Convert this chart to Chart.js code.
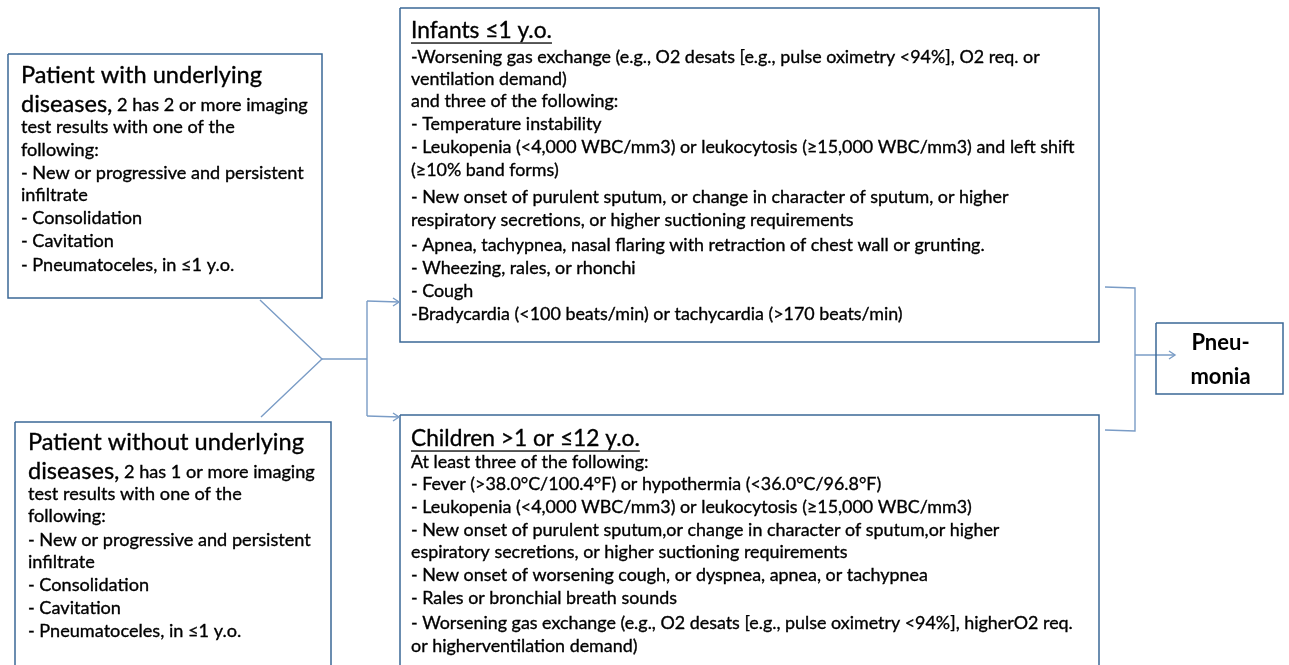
<!DOCTYPE html>
<html>
<head>
<meta charset="utf-8">
<script src="https://cdn.jsdelivr.net/npm/chart.js@4/dist/chart.umd.min.js"></script>
<style>
    body { margin: 0; background: #ffffff; }
    #wrap { width: 1289px; height: 665px; position: relative; }
</style>
</head>
<body>
<div id="wrap"><canvas id="flow"></canvas></div>
<script>
// box texts
const withDiseaseTitle = ["Patient with underlying", "diseases,"];
const withDiseaseLines = [
    " 2 has 2 or more imaging",
    "test results with one of the",
    "following:",
    "- New or progressive and persistent",
    "infiltrate",
    "- Consolidation",
    "- Cavitation",
    "- Pneumatoceles, in \u22641 y.o."
];
const withoutDiseaseTitle = ["Patient without underlying", "diseases,"];
const withoutDiseaseLines = [
    " 2 has 1 or more imaging",
    "test results with one of the",
    "following:",
    "- New or progressive and persistent",
    "infiltrate",
    "- Consolidation",
    "- Cavitation",
    "- Pneumatoceles, in \u22641 y.o."
];
const infantTitle = "Infants \u22641 y.o.";
const infantLines = [
    "-Worsening gas exchange (e.g., O2 desats [e.g., pulse oximetry <94%], O2 req. or",
    "ventilation demand)",
    "and three of the following:",
    "- Temperature instability",
    "- Leukopenia (<4,000 WBC/mm3) or leukocytosis (\u226515,000 WBC/mm3) and left shift",
    "(\u226510% band forms)",
    "- New onset of purulent sputum, or change in character of sputum, or higher",
    "respiratory secretions, or higher suctioning requirements",
    "- Apnea, tachypnea, nasal flaring with retraction of chest wall or grunting.",
    "- Wheezing, rales, or rhonchi",
    "- Cough",
    "-Bradycardia (<100 beats/min) or tachycardia (>170 beats/min)"
];
const childTitle = "Children >1 or \u226412 y.o.";
const childLines = [
    "At least three of the following:",
    "- Fever (>38.0\u00b0C/100.4\u00b0F) or hypothermia (<36.0\u00b0C/96.8\u00b0F)",
    "- Leukopenia (<4,000 WBC/mm3) or leukocytosis (\u226515,000 WBC/mm3)",
    "- New onset of purulent sputum,or change in character of sputum,or higher",
    "espiratory secretions, or higher suctioning requirements",
    "- New onset of worsening cough, or dyspnea, apnea, or tachypnea",
    "- Rales or bronchial breath sounds",
    "- Worsening gas exchange (e.g., O2 desats [e.g., pulse oximetry <94%], higherO2 req.",
    "or higherventilation demand)"
];
const resultLines = ["Pneu-", "monia"];

// layout (pixels on a 1289 x 665 grid)
const boxes = {
    withDisease: [8, 54, 322, 298],
    withoutDisease: [15, 422, 331, 700],
    infant: [400, 8, 1099, 342],
    child: [400, 415, 1099, 700],
    result: [1156, 323, 1283, 394]
};
const links = [
    [[260, 300], [322, 359], [261, 417]],
    [[322, 359], [367, 359]],
    [[367, 301], [367, 416]],
    [[367, 301], [399, 302]],
    [[367, 416], [399, 417]],
    [[1105, 287], [1135, 288], [1135, 431], [1105, 430]],
    [[1135, 355], [1175, 355]]
];
const arrowEnds = [[399, 302], [399, 417], [1175, 355]];

const textX = { withDisease: 21, withoutDisease: 28, infant: 411, child: 411 };
const rowsWith = [75, 104, 127, 150, 173, 195, 218, 241, 265];
const rowsWithout = [442, 471, 494, 516, 540, 562, 585, 608, 631];
const rowsInfant = [31, 57, 79, 101, 124, 147, 170, 197, 220, 245, 268, 291, 314];
const rowsChild = [439, 462, 484, 507, 530, 552, 575, 598, 623, 646];

const BOX_COLOR = '#3b6896';
const LINK_COLOR = '#7a9cc6';
const FONT = 'Lato, "Open Sans", sans-serif';

function boxPath(b) {
    return [
        { x: b[0], y: b[1] }, { x: b[2], y: b[1] },
        { x: b[2], y: b[3] }, { x: b[0], y: b[3] }, { x: b[0], y: b[1] }
    ];
}

const datasets = [];
Object.keys(boxes).forEach(function (k) {
    datasets.push({
        data: boxPath(boxes[k]),
        showLine: true, borderColor: BOX_COLOR, borderWidth: 1.5,
        pointRadius: 0, fill: false, tension: 0
    });
});
links.forEach(function (l) {
    datasets.push({
        data: l.map(function (p) { return { x: p[0], y: p[1] }; }),
        showLine: true, borderColor: LINK_COLOR, borderWidth: 1.4,
        pointRadius: 0, fill: false, tension: 0
    });
});

// font size that makes a sample line reach a given width
function fitSize(ctx, text, width, weight) {
    ctx.font = (weight || '') + ' 100px ' + FONT;
    return 100 * width / ctx.measureText(text).width;
}

// slightly heavier text, closer to the original rendering
function ink(ctx, text, x, y) {
    ctx.fillText(text, x, y);
    ctx.strokeText(text, x, y);
}

const textPlugin = {
    id: 'boxText',
    afterDatasetsDraw(chart) {
        const ctx = chart.ctx;
        const sx = chart.scales.x, sy = chart.scales.y;
        const px = function (v) { return sx.getPixelForValue(v); };
        const py = function (v) { return sy.getPixelForValue(v); };
        ctx.save();

        // arrow heads
        ctx.strokeStyle = LINK_COLOR;
        ctx.lineWidth = 1.4;
        arrowEnds.forEach(function (a) {
            const x = px(a[0]), y = py(a[1]);
            ctx.beginPath();
            ctx.moveTo(x - 6, y - 4);
            ctx.lineTo(x, y);
            ctx.lineTo(x - 6, y + 4);
            ctx.stroke();
        });

        ctx.fillStyle = '#000000';
        ctx.strokeStyle = '#000000';
        ctx.lineWidth = 0.35;
        ctx.textBaseline = 'middle';
        ctx.textAlign = 'left';

        const bigSize = fitSize(ctx, "Patient with underlying", 241);
        const smallSize = fitSize(ctx, "- New or progressive and persistent", 283);

        function leftBox(title, lines, x0, rows) {
            ctx.font = bigSize + 'px ' + FONT;
            ink(ctx, title[0], px(x0), py(rows[0]));
            ink(ctx, title[1], px(x0), py(rows[1]));
            const w = ctx.measureText(title[1]).width;
            ctx.font = smallSize + 'px ' + FONT;
            ink(ctx, lines[0], px(x0) + w, py(rows[1]) + 1);
            for (let i = 1; i < lines.length; i++) {
                ink(ctx, lines[i], px(x0), py(rows[i + 1]));
            }
        }
        leftBox(withDiseaseTitle, withDiseaseLines, textX.withDisease, rowsWith);
        leftBox(withoutDiseaseTitle, withoutDiseaseLines, textX.withoutDisease, rowsWithout);

        const bodySize = fitSize(ctx, infantLines[0], 629);
        const headSize = fitSize(ctx, childTitle, 229);
        function rightBox(title, lines, x0, rows) {
            ctx.font = headSize + 'px ' + FONT;
            ink(ctx, title, px(x0), py(rows[0]));
            const tw = ctx.measureText(title).width;
            ctx.fillRect(px(x0), py(rows[0]) + headSize * 0.5, tw, 1.3);
            ctx.font = bodySize + 'px ' + FONT;
            lines.forEach(function (t, i) {
                ink(ctx, t, px(x0), py(rows[i + 1]));
            });
        }
        rightBox(infantTitle, infantLines, textX.infant, rowsInfant);
        rightBox(childTitle, childLines, textX.child, rowsChild);

        // result box
        const r = boxes.result;
        ctx.textAlign = 'center';
        ctx.font = 'bold 22px ' + FONT;
        ctx.fillText(resultLines[0], px((r[0] + r[2]) / 2 + 1), py(343));
        ctx.fillText(resultLines[1], px((r[0] + r[2]) / 2 + 1), py(377));
        ctx.restore();
    }
};

new Chart(document.getElementById('flow'), {
    type: 'scatter',
    data: { datasets: datasets },
    options: {
        responsive: true,
        maintainAspectRatio: false,
        animation: false,
        layout: { padding: 0 },
        plugins: { legend: { display: false }, tooltip: { enabled: false } },
        scales: {
            x: { type: 'linear', min: 0, max: 1289, display: false },
            y: { type: 'linear', min: 0, max: 665, reverse: true, display: false }
        }
    },
    plugins: [textPlugin]
});
</script>
</body>
</html>
